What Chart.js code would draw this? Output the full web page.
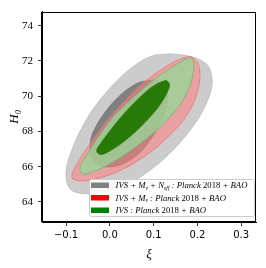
<!DOCTYPE html>
<html>
<head>
<meta charset="utf-8">
<script src="https://cdn.jsdelivr.net/npm/chart.js@4/dist/chart.umd.min.js"></script>
<style>
  html, body { margin: 0; padding: 0; background: #fff; }
  #wrap { width: 266px; height: 268px; }
</style>
</head>
<body>
<div id="wrap"><canvas id="chart" width="266" height="268"></canvas></div>
<script>
// ====================
// Data
// ====================
const xTicks = [-0.1, 0.0, 0.1, 0.2, 0.3];
const yTicks = [64, 66, 68, 70, 72, 74];
const xRange = [-0.155, 0.334];
const yRange = [62.86, 74.8];

// IVS + Mv + Neff, 95% contour
const grayOuterXi = [0.135, 0.165, 0.196, 0.222, 0.232, 0.233, 0.220, 0.202, 0.179, 0.152, 0.120, 0.092, 0.065, 0.024, -0.022, -0.054, -0.082, -0.095, -0.100, -0.098, -0.090, -0.071, -0.041, -0.002, 0.036, 0.074, 0.104, 0.135];
const grayOuterH0 = [72.40, 72.34, 72.17, 71.80, 71.24, 70.52, 69.57, 68.72, 67.93, 67.14, 66.36, 65.80, 65.35, 64.83, 64.52, 64.47, 64.58, 64.89, 65.45, 66.07, 66.73, 67.86, 69.17, 70.39, 71.33, 72.03, 72.33, 72.40];
// IVS + Mv + Neff, 68% contour
const grayInnerXi = [0.097, 0.120, 0.131, 0.131, 0.120, 0.097, 0.066, 0.028, -0.006, -0.033, -0.045, -0.042, -0.022, 0.007, 0.037, 0.068, 0.097];
const grayInnerH0 = [70.92, 70.77, 70.30, 69.55, 68.70, 67.67, 66.73, 66.13, 65.98, 66.20, 66.82, 67.71, 68.70, 69.64, 70.34, 70.79, 70.92];
// IVS + Mv, 95% contour
const redOuterXi = [0.186, 0.201, 0.206, 0.203, 0.190, 0.167, 0.136, 0.098, 0.053, 0.007, -0.039, -0.069, -0.085, -0.086, -0.077, -0.058, -0.033, -0.004, 0.030, 0.068, 0.111, 0.150, 0.174, 0.186];
const redOuterH0 = [72.25, 71.89, 71.24, 70.49, 69.55, 68.61, 67.76, 66.92, 66.17, 65.60, 65.27, 65.19, 65.32, 65.60, 66.07, 66.82, 67.72, 68.69, 69.63, 70.57, 71.40, 71.99, 72.21, 72.25];
// IVS, 95% contour
const greenOuterXi = [0.184, 0.191, 0.191, 0.184, 0.166, 0.140, 0.110, 0.082, 0.048, 0.009, -0.020, -0.045, -0.060, -0.068, -0.065, -0.053, -0.036, -0.015, 0.010, 0.037, 0.056, 0.083, 0.103, 0.134, 0.162, 0.176, 0.184];
const greenOuterH0 = [72.21, 71.95, 71.39, 70.67, 69.72, 68.89, 68.14, 67.56, 66.92, 66.28, 65.90, 65.65, 65.57, 65.75, 66.17, 66.64, 67.33, 68.10, 68.90, 69.55, 69.99, 70.58, 70.98, 71.51, 71.96, 72.14, 72.21];
// IVS, 68% contour
const greenInnerXi = [0.129, 0.136, 0.135, 0.125, 0.110, 0.091, 0.069, 0.046, 0.022, -0.001, -0.018, -0.028, -0.030, -0.022, -0.005, 0.014, 0.037, 0.062, 0.087, 0.110, 0.129];
const greenInnerH0 = [70.90, 70.71, 70.45, 69.92, 69.36, 68.80, 68.23, 67.71, 67.24, 66.88, 66.69, 66.77, 66.93, 67.29, 67.86, 68.46, 69.13, 69.77, 70.34, 70.73, 70.90];

const legendLabels = [
  'IVS + M_{ν} + N_{eff} : Planck 2018 + BAO',
  'IVS + M_{ν} : Planck 2018 + BAO',
  'IVS : Planck 2018 + BAO'
];
const legendColors = ['#808080', '#ff0000', '#008000'];

// ====================
// Helpers
// ====================
function toPoints(xs, ys) {
  return xs.map((x, i) => ({ x, y: ys[i] }));
}

function contour(xs, ys, fillColor, edgeColor, order) {
  return {
    data: toPoints(xs, ys),
    showLine: true,
    fill: 'shape',
    backgroundColor: fillColor,
    borderColor: edgeColor,
    borderWidth: 0.8,
    tension: 0.3,
    pointRadius: 0,
    pointHoverRadius: 0,
    order
  };
}

// split "M_{ν}" into normal / subscript pieces
function parseLabel(s) {
  const parts = [];
  const re = /_\{([^}]*)\}/g;
  let last = 0, m;
  while ((m = re.exec(s))) {
    if (m.index > last) parts.push({ t: s.slice(last, m.index), sub: false });
    parts.push({ t: m[1], sub: true });
    last = re.lastIndex;
  }
  if (last < s.length) parts.push({ t: s.slice(last), sub: false });
  return parts;
}

// frame round the plot
const framePlugin = {
  id: 'frame',
  afterDatasetsDraw(chart) {
    const { ctx, chartArea: a } = chart;
    ctx.save();
    ctx.strokeStyle = '#000';
    ctx.lineWidth = 1;
    ctx.strokeRect(Math.round(a.left) - 0.5, Math.round(a.top) + 0.5,
      Math.round(a.right - a.left), Math.round(a.bottom - a.top) - 1);
    ctx.restore();
  }
};

// legend with subscripts, lower right
const legendPlugin = {
  id: 'mathLegend',
  afterDraw(chart) {
    const ctx = chart.ctx;
    const x0 = 89.5, y0 = 179.5, w = 165, h = 37;
    ctx.save();
    ctx.beginPath();
    ctx.roundRect(x0, y0, w, h, 2);
    ctx.fillStyle = 'rgba(255,255,255,0.85)';
    ctx.fill();
    ctx.strokeStyle = '#cccccc';
    ctx.lineWidth = 1;
    ctx.stroke();

    const fam = "'Liberation Serif', 'DejaVu Serif', serif";
    legendLabels.forEach((label, i) => {
      const cy = 185 + i * 12.5;
      ctx.fillStyle = legendColors[i];
      ctx.fillRect(91, cy - 2.5, 18, 5.5);
      let x = 115.5;
      ctx.fillStyle = '#000';
      ctx.textBaseline = 'alphabetic';
      parseLabel(label).forEach(p => {
        p.t.split(/(\d+)/).forEach(chunk => {
          if (!chunk) return;
          const digits = /^\d+$/.test(chunk);
          const size = p.sub ? 5.5 : 8.7;
          ctx.font = (digits ? '' : 'italic ') + size + 'px ' + fam;
          ctx.fillText(chunk, x, cy + 3 + (p.sub ? 1.8 : 0));
          x += ctx.measureText(chunk).width;
        });
      });
    });
    ctx.restore();
  }
};

// ====================
// Chart
// ====================
const ctx = document.getElementById('chart').getContext('2d');
new Chart(ctx, {
  type: 'scatter',
  data: {
    datasets: [
      contour(grayOuterXi, grayOuterH0, '#cccccc', '#b8b8b8', 6),
      contour(grayInnerXi, grayInnerH0, '#808080', '#7a7a7a', 5),
      contour(redOuterXi, redOuterH0, 'rgba(255,124,124,0.55)', '#ef7272', 4),
      contour(greenOuterXi, greenOuterH0, 'rgba(148,217,153,0.75)', '#7fae6c', 2),
      contour(greenInnerXi, greenInnerH0, '#277a05', '#277a05', 1)
    ]
  },
  options: {
    responsive: false,
    devicePixelRatio: 1,
    animation: false,
    events: [],
    layout: { padding: { top: 10, right: 10, left: 0, bottom: 0 } },
    plugins: {
      legend: { display: false },
      tooltip: { enabled: false }
    },
    scales: {
      x: {
        type: 'linear',
        min: xRange[0],
        max: xRange[1],
        afterBuildTicks: scale => { scale.ticks = xTicks.map(v => ({ value: v })); },
        afterFit: scale => { scale.height = 46; },
        grid: { drawOnChartArea: false, drawTicks: true, tickLength: 4, tickColor: '#000', tickWidth: 0.8 },
        border: { display: true, color: '#000', width: 1 },
        ticks: {
          padding: 3,
          maxRotation: 0,
          color: '#000',
          font: { family: "'DejaVu Sans'", size: 10 },
          callback: v => v.toFixed(1).replace('-', '\u2212')
        },
        title: {
          display: true,
          text: 'ξ',
          color: '#000',
          font: { family: "'Liberation Serif', 'DejaVu Serif', serif", style: 'italic', size: 13 },
          padding: { top: 0, bottom: 6 }
        }
      },
      y: {
        type: 'linear',
        min: yRange[0],
        max: yRange[1],
        afterBuildTicks: scale => { scale.ticks = yTicks.map(v => ({ value: v })); },
        afterFit: scale => { scale.width = 42; },
        grid: { drawOnChartArea: false, drawTicks: true, tickLength: 4, tickColor: '#000', tickWidth: 0.8 },
        border: { display: true, color: '#000', width: 1 },
        ticks: {
          padding: 5,
          color: '#000',
          font: { family: "'Liberation Serif', serif", size: 11 },
          callback: v => String(v)
        },
        title: {
          display: true,
          text: 'H₀',
          color: '#000',
          font: { family: "'Liberation Serif', 'DejaVu Serif', serif", style: 'italic', size: 13 },
          padding: { top: 7, bottom: 0 }
        }
      }
    }
  },
  plugins: [framePlugin, legendPlugin]
});
</script>
</body>
</html>
